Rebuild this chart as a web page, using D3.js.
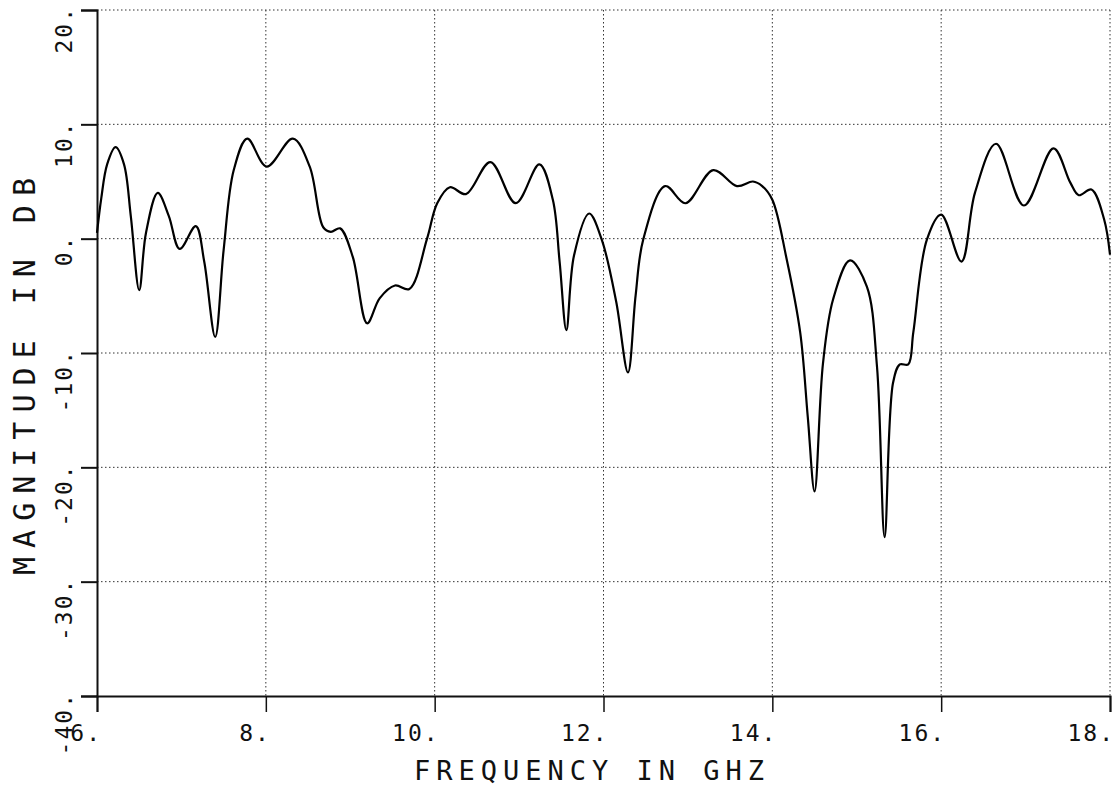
<!DOCTYPE html>
<html>
<head>
<meta charset="utf-8">
<script src="https://cdn.jsdelivr.net/npm/d3@7"></script>
<style>
  html, body { margin: 0; padding: 0; background: #fff; }
  svg { display: block; }
  text { font-family: "DejaVu Sans Mono", "Liberation Mono", monospace; fill: #111; }
</style>
</head>
<body>
<svg id="chart" width="1120" height="796"></svg>
<script>
const freqGHz = [6.00, 6.05, 6.12, 6.22, 6.32, 6.40, 6.50, 6.58, 6.72, 6.85, 6.98, 7.17, 7.27, 7.40, 7.50, 7.62, 7.78,
  8.01, 8.32, 8.52, 8.68, 8.77, 8.88, 9.03, 9.20, 9.35, 9.53, 9.70, 9.91, 10.03, 10.18, 10.37, 10.66, 10.96, 11.24,
  11.40, 11.48, 11.56, 11.65, 11.83, 11.98, 12.15, 12.29, 12.38, 12.47, 12.73, 12.97, 13.30, 13.58, 13.77, 13.88,
  14.00, 14.17, 14.33, 14.42, 14.50, 14.60, 14.72, 14.92, 15.12, 15.24, 15.33, 15.43, 15.51, 15.61, 15.67, 15.83,
  16.00, 16.24, 16.40, 16.65, 16.98, 17.33, 17.53, 17.63, 17.78, 17.93, 18.00];
const magnitudeDB = [0.5, 3.5, 6.5, 8.0, 6.5, 2.0, -4.5, 0.5, 4.0, 2.0, -0.9, 1.1, -2.0, -8.6, -1.0, 6.0, 8.75,
  6.3, 8.75, 6.3, 1.0, 0.6, 0.9, -1.6, -7.4, -5.2, -4.1, -4.4, 0.0, 3.1, 4.5, 3.9, 6.7, 3.1, 6.5,
  3.4, -2.0, -8.0, -1.5, 2.2, -0.1, -5.5, -11.7, -5.0, -0.1, 4.6, 3.1, 6.0, 4.6, 5.0, 4.6,
  3.4, -1.8, -8.2, -15.6, -22.1, -10.9, -5.3, -1.9, -4.2, -11.2, -26.1, -12.6, -11.0, -11.0, -8.2, -0.1,
  2.1, -2.0, 4.0, 8.3, 2.9, 7.9, 4.9, 3.8, 4.3, 1.7, -1.4];
const xTickValues = [6, 8, 10, 12, 14, 16, 18];
const xTickLabels = ["6.", "8.", "10.", "12.", "14.", "16.", "18."];
const yTickValues = [-40, -30, -20, -10, 0, 10, 20];
const yTickLabels = ["-40.", "-30.", "-20.", "-10.", "0.", "10.", "20."];
const xTitle = "FREQUENCY IN GHZ";
const yTitle = "MAGNITUDE IN DB";

const svg = d3.select("#chart");
const x = d3.scaleLinear().domain([6, 18]).range([97, 1110]);
const y = d3.scaleLinear().domain([-40, 20]).range([696, 10]);

// grid
const grid = svg.append("g").attr("stroke", "#333").attr("stroke-width", 1).attr("stroke-dasharray", "1.5,2.5");
grid.selectAll("line.v").data(xTickValues.slice(1)).join("line")
  .attr("x1", d => x(d)).attr("x2", d => x(d)).attr("y1", y(20)).attr("y2", y(-40));
grid.selectAll("line.h").data(yTickValues.slice(1)).join("line")
  .attr("x1", x(6)).attr("x2", x(18)).attr("y1", d => y(d)).attr("y2", d => y(d));

// axes
const xAxis = d3.axisBottom(x).tickValues(xTickValues).tickSize(16).tickFormat("");
const gx = svg.append("g").attr("transform", `translate(0,${y(-40)})`).call(xAxis);
gx.select(".domain").attr("stroke", "#111").attr("stroke-width", 2);
gx.selectAll(".tick line").attr("stroke", "#111").attr("stroke-width", 1.5);

const yAxis = d3.axisLeft(y).tickValues(yTickValues).tickSize(16).tickFormat("");
const gy = svg.append("g").attr("transform", `translate(${x(6)},0)`).call(yAxis);
gy.select(".domain").attr("stroke", "#111").attr("stroke-width", 2);
gy.selectAll(".tick line").attr("stroke", "#111").attr("stroke-width", 2);

// tick labels
svg.append("g").selectAll("text").data(xTickValues).join("text")
  .attr("x", d => x(d) + 5).attr("y", 741)
  .attr("text-anchor", "end").attr("font-size", 23).attr("letter-spacing", 2)
  .text((d, i) => xTickLabels[i]);

svg.append("g").selectAll("text").data(yTickValues).join("text")
  .attr("transform", d => `translate(72,${y(d) - 4}) rotate(-90)`)
  .attr("text-anchor", "end").attr("font-size", 23).attr("letter-spacing", 2)
  .text((d, i) => yTickLabels[i]);

// titles
svg.append("text").attr("x", 592).attr("y", 780).attr("text-anchor", "middle")
  .attr("font-size", 27).attr("letter-spacing", 6).text(xTitle);
svg.append("text").attr("transform", "translate(35,372) rotate(-90)").attr("text-anchor", "middle")
  .attr("font-size", 30).attr("letter-spacing", 9).text(yTitle);

// curve
const pts = freqGHz.map((f, i) => [f, magnitudeDB[i]]);
const line = d3.line().x(d => x(d[0])).y(d => y(d[1])).curve(d3.curveCatmullRom.alpha(0.5));
svg.append("path").datum(pts).attr("d", line)
  .attr("fill", "none").attr("stroke", "#000").attr("stroke-width", 2.2).attr("stroke-linejoin", "round");
</script>
</body>
</html>
